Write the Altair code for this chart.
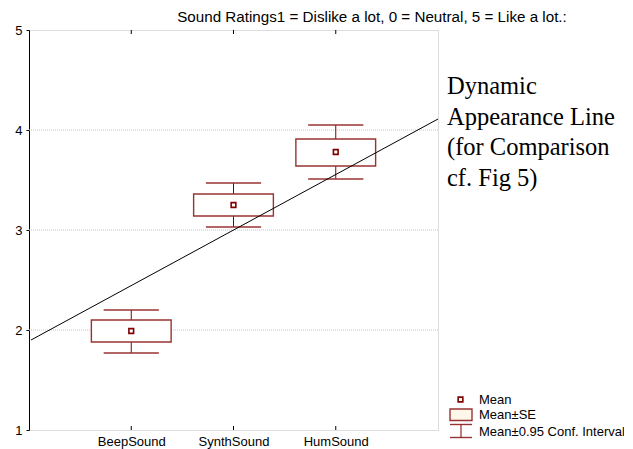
import altair as alt
import pandas as pd

# ---- data ----
categories = ["BeepSound", "SynthSound", "HumSound"]
positions = [1, 2, 3]
means = [1.99, 3.25, 3.78]
se_lo = [1.88, 3.14, 3.64]
se_hi = [2.10, 3.36, 3.91]
ci_lo = [1.77, 3.03, 3.51]
ci_hi = [2.20, 3.47, 4.05]

line_x = [0.02, 4.0]
line_y = [1.90, 4.11]

grid_vals = [2, 3, 4]
y_ticks = [1, 2, 3, 4, 5]

title_text = "Sound Ratings1 = Dislike a lot, 0 = Neutral, 5 = Like a lot.:"
note_lines = ["Dynamic", "Appearance Line", "(for Comparison", "cf. Fig 5)"]
legend_labels = ["Mean", "Mean\u00b1SE", "Mean\u00b10.95 Conf. Interval"]

BOX_HALF = 0.39
CAP_HALF = 0.27
DARK = "#800000"
EDGE = "#993333"
SANS = "Liberation Sans"
SERIF = "Liberation Serif"

df = pd.DataFrame({
    "cat": categories, "pos": positions, "mean": means,
    "se_lo": se_lo, "se_hi": se_hi, "ci_lo": ci_lo, "ci_hi": ci_hi,
})
df["bx0"] = df["pos"] - BOX_HALF
df["bx1"] = df["pos"] + BOX_HALF
df["cx0"] = df["pos"] - CAP_HALF
df["cx1"] = df["pos"] + CAP_HALF

xscale = alt.Scale(domain=[0, 4], nice=False, zero=False)
yscale = alt.Scale(domain=[1, 5], nice=False, zero=False)

label_expr = " : ".join(
    [f"datum.value == {p} ? '{c}'" for p, c in zip(positions[:-1], categories[:-1])]
) + f" : '{categories[-1]}'"

xaxis = alt.Axis(values=positions, labelExpr=label_expr, title=None, grid=False,
                 ticks=False, domain=False, labelPadding=5, labelFont=SANS,
                 labelFontSize=13, labelColor="black")
yaxis = alt.Axis(values=y_ticks, format="d", title=None, grid=False, ticks=True,
                 tickSize=3, tickColor="black", domainColor="black", labelPadding=4,
                 labelFont=SANS, labelFontSize=13, labelColor="black")

base = alt.Chart(df)

grid = alt.Chart(pd.DataFrame({"g": grid_vals})).mark_rule(
    color="#c4c4c4", strokeDash=[1, 1], strokeWidth=1
).encode(y=alt.Y("g:Q", scale=yscale, axis=yaxis))

tick_df = pd.DataFrame({"t": positions})
top_ticks = alt.Chart(tick_df).mark_rule(color="black").encode(
    x=alt.X("t:Q", scale=xscale, axis=xaxis), y=alt.value(0), y2=alt.value(4))
bot_ticks = alt.Chart(tick_df).mark_rule(color="black").encode(
    x=alt.X("t:Q", scale=xscale), y=alt.value(400), y2=alt.value(396))

stems = base.mark_rule(color=DARK, strokeWidth=1).encode(
    x=alt.X("pos:Q", scale=xscale),
    y=alt.Y("ci_lo:Q", scale=yscale), y2="ci_hi:Q")
cap_hi = base.mark_rule(color=EDGE, strokeWidth=1.4).encode(
    x=alt.X("cx0:Q", scale=xscale), x2="cx1:Q",
    y=alt.Y("ci_hi:Q", scale=yscale))
cap_lo = base.mark_rule(color=EDGE, strokeWidth=1.4).encode(
    x=alt.X("cx0:Q", scale=xscale), x2="cx1:Q",
    y=alt.Y("ci_lo:Q", scale=yscale))
boxes = base.mark_rect(fill="white", stroke=EDGE, strokeWidth=1.4).encode(
    x=alt.X("bx0:Q", scale=xscale), x2="bx1:Q",
    y=alt.Y("se_lo:Q", scale=yscale), y2="se_hi:Q")
mean_pts = base.mark_square(size=22, fill="white", stroke=DARK, strokeWidth=1.6,
                            opacity=1).encode(
    x=alt.X("pos:Q", scale=xscale), y=alt.Y("mean:Q", scale=yscale))

line = alt.Chart(pd.DataFrame({"lx": line_x, "ly": line_y})).mark_line(
    color="black", strokeWidth=1).encode(
    x=alt.X("lx:Q", scale=xscale), y=alt.Y("ly:Q", scale=yscale))

one = alt.Data(values=[{}])

note = alt.Chart(one).mark_text(
    align="left", baseline="alphabetic", font=SERIF, fontSize=24.5,
    lineHeight=30.5, color="black"
).encode(x=alt.value(418), y=alt.value(64), text=alt.value(note_lines))

title = alt.Chart(one).mark_text(
    align="center", baseline="middle", font=SANS, fontSize=15.2, color="black"
).encode(x=alt.value(343), y=alt.value(-13), text=alt.value(title_text))

leg_sq = alt.Chart(one).mark_square(size=22, fill="white", stroke=DARK,
                                     strokeWidth=1.6, opacity=1).encode(
    x=alt.value(431.5), y=alt.value(369.5))
leg_box = alt.Chart(one).mark_rect(fill="#fff6ea", stroke=EDGE, strokeWidth=1.4).encode(
    x=alt.value(421), x2=alt.value(443), y=alt.value(379), y2=alt.value(390.5))
leg_cap1 = alt.Chart(one).mark_rule(color=EDGE, strokeWidth=1.4).encode(
    x=alt.value(421), x2=alt.value(443), y=alt.value(394.5))
leg_cap2 = alt.Chart(one).mark_rule(color=EDGE, strokeWidth=1.4).encode(
    x=alt.value(421), x2=alt.value(443), y=alt.value(407.5))
leg_stem = alt.Chart(one).mark_rule(color=DARK, strokeWidth=1).encode(
    x=alt.value(432), y=alt.value(394.5), y2=alt.value(407.5))

leg_texts = [
    alt.Chart(one).mark_text(align="left", baseline="middle", font=SANS,
                             fontSize=13, color="black").encode(
        x=alt.value(450), y=alt.value(yy), text=alt.value(lbl))
    for lbl, yy in zip(legend_labels, [370, 385, 402])
]

chart = alt.layer(
    grid, top_ticks, bot_ticks, stems, cap_hi, cap_lo, boxes, mean_pts, line,
    note, title, leg_sq, leg_box, leg_cap1, leg_cap2, leg_stem, *leg_texts
).properties(
    width=409, height=400,
    padding={"left": 21, "top": 22, "right": 186, "bottom": 19},
    autosize=alt.AutoSizeParams(type="none"),
).configure_view(stroke="black", strokeWidth=1).configure(background="white")

chart.save("out.html", embed_options={"renderer": "svg", "actions": False})
